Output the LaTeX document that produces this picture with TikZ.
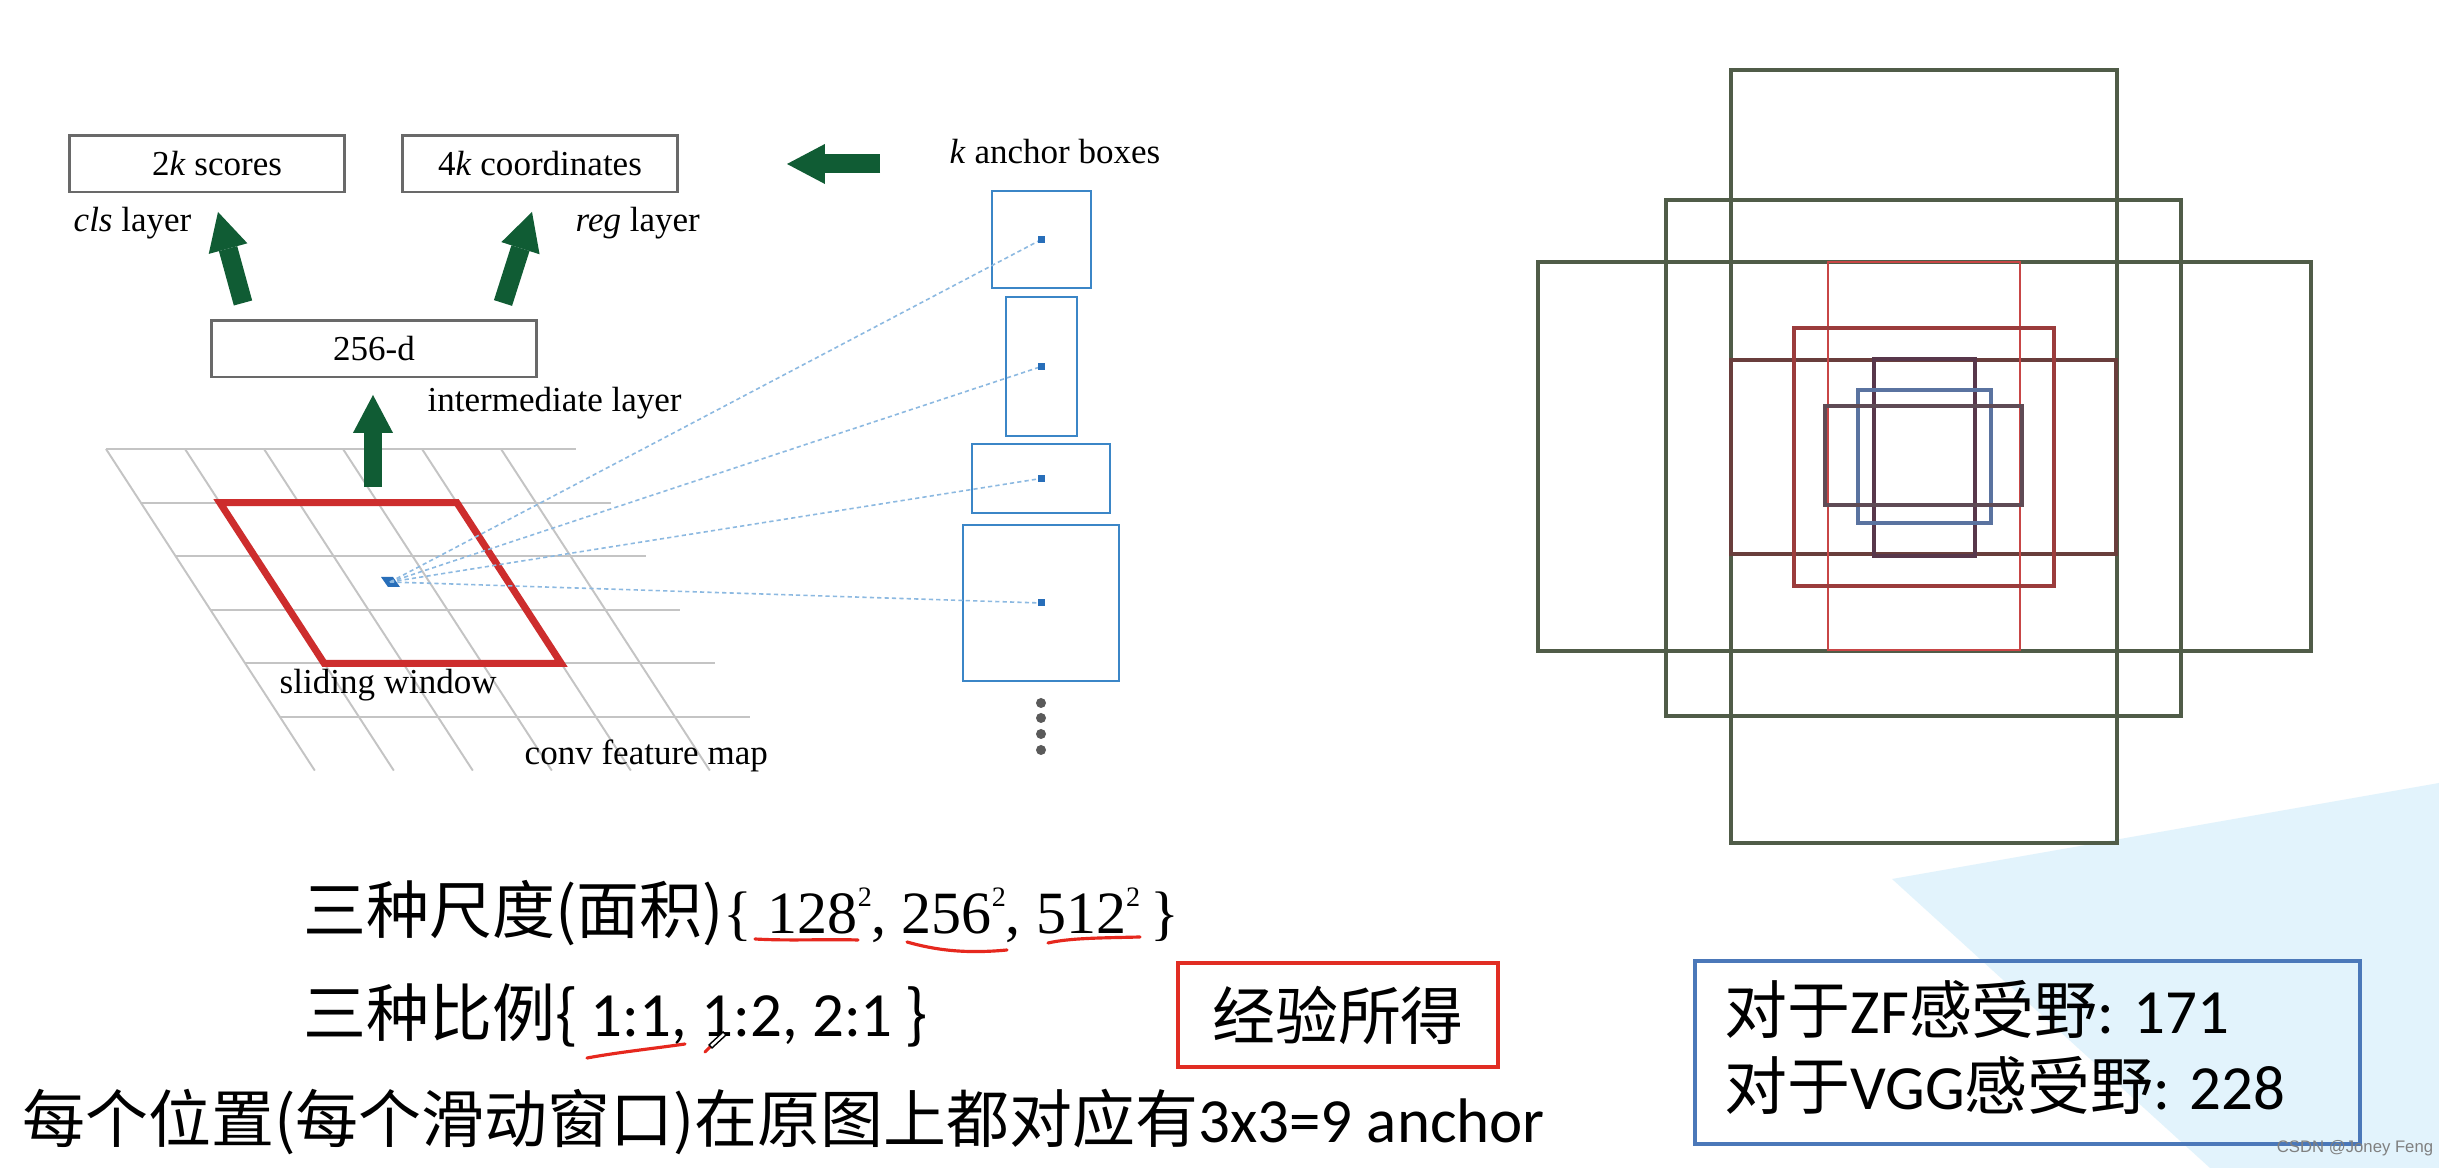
\documentclass[tikz,border=0pt]{standalone}
\usepackage{fontspec}
\setmainfont{Liberation Serif}
\newfontfamily\cjkf{Noto Sans CJK SC}
\newfontfamily\carl{Carlito}
\newfontfamily\wmf{Liberation Sans}
\usetikzlibrary{arrows.meta,calc}

\definecolor{agreen}{RGB}{16,92,52}
\definecolor{gridgray}{RGB}{196,196,196}
\definecolor{boxgray}{RGB}{105,105,105}
\definecolor{winred}{RGB}{205,45,45}
\definecolor{anchorblue}{RGB}{59,134,199}
\definecolor{dashblue}{RGB}{140,185,225}
\definecolor{dotblue}{RGB}{40,110,185}
\definecolor{dotgray}{RGB}{90,90,90}
\definecolor{bggreen}{RGB}{80,92,72}
\definecolor{midwide}{RGB}{105,62,60}
\definecolor{midtall}{RGB}{200,70,70}
\definecolor{midsq}{RGB}{155,60,60}
\definecolor{smtall}{RGB}{88,55,75}
\definecolor{smsq}{RGB}{90,115,160}
\definecolor{smwide}{RGB}{95,75,85}
\definecolor{bgblue}{RGB}{226,243,252}
\definecolor{boxred}{RGB}{225,45,35}
\definecolor{boxblue}{RGB}{75,120,185}
\definecolor{penred}{RGB}{230,40,30}

\newcommand\fsm{\fontsize{9.96pt}{12pt}\selectfont}
\newcommand\fbig{\fontsize{17.9pt}{21pt}\selectfont}
\newcommand\ftnr{\fontsize{17.07pt}{20pt}\selectfont}
\newcommand\sqtwo{\raisebox{7.9pt}{\fontsize{8pt}{8pt}\selectfont 2}}

\tikzset{
  lbox/.style={draw=boxgray, line width=0.85pt, minimum height=0.56cm, inner sep=0pt, font=\fsm},
  lbl/.style={anchor=base west, inner sep=0pt, font=\fsm},
  fatarrow/.style={draw=agreen, line width=5.4pt, -{Triangle[length=10.8pt,width=11.4pt,line width=0pt]}},
  gridline/.style={draw=gridgray, line width=0.55pt},
  win/.style={draw=winred, line width=2pt, line join=miter},
  abox/.style={draw=anchorblue, line width=0.7pt, inner sep=0pt},
  dashl/.style={draw=dashblue, line width=0.45pt, dash pattern=on 1.2pt off 0.9pt},
  bigtxt/.style={anchor=base west, inner sep=0pt, font=\fbig\cjkf},
  pen/.style={draw=penred, line width=0.9pt, line cap=round},
  anc/.style={line width=0.95pt}
}

\begin{document}
\begin{tikzpicture}[x=0.01cm,y=-0.01cm]
\fill[white] (0,0) rectangle (2439,1168);
\useasboundingbox (0,0) rectangle (2439,1168);

% light blue background wedge
\fill[bgblue] (1892,879) -- (2439,783) -- (2439,1168) -- (2210,1168) -- cycle;

% ---------- left diagram ----------
% conv feature map grid
\foreach \i in {0,...,5}
  \draw[gridline] ({106+79*\i},449) -- ({106+79*\i+6*34.8},{449+6*53.6});
\foreach \j in {0,...,5}
  \draw[gridline] ({106+34.8*\j},{449+53.6*\j}) -- ++(470,0);

% sliding window
\draw[win] (219.8,502.6) -- (456.8,502.6) -- (561.2,663.4) -- (324.2,663.4) -- cycle;

% centre of window
\coordinate (src) at (390,582);
\fill[dotblue] (381,577) -- (393,577) -- (400,587) -- (388,587) -- cycle;

% boxes
\node[lbox, minimum width=2.74cm] (cls) at (207,164) {\hspace{0.2cm}2\textit{k} scores};
\node[lbox, minimum width=2.74cm] (reg) at (540,164) {4\textit{k} coordinates};
\node[lbox, minimum width=3.24cm] (mid) at (374,349) {256-d};

% labels
\node[lbl] (clsl) at (73,232) {\textit{cls} layer};
\node[lbl] (regl) at (575,232) {\textit{reg} layer};
\node[lbl] (kab) at (949,164) {\textit{k} anchor boxes};
\node[lbl] (intl) at (427,412) {intermediate layer};
\node[lbl] (slw) at (279,694) {sliding window};
\node[lbl] (cfm) at (524,765) {conv feature map};

% green arrows
\coordinate (v0) at (373,487);  \coordinate (v1) at (373,395);
\coordinate (l0) at (243,303);  \coordinate (l1) at (218,212);
\coordinate (r0) at (503,303);  \coordinate (r1) at (532,212);
\coordinate (h0) at (880,164);  \coordinate (h1) at (787,164);
\draw[fatarrow] (v0) -- (v1);
\draw[fatarrow] (l0) -- (l1);
\draw[fatarrow] (r0) -- (r1);
\draw[fatarrow] (h0) -- (h1);

% anchor boxes
\node[abox, minimum width=0.99cm, minimum height=0.97cm] (a1) at (1041.5,239.5) {};
\node[abox, minimum width=0.71cm, minimum height=1.39cm] (a2) at (1041.5,366.5) {};
\node[abox, minimum width=1.38cm, minimum height=0.69cm] (a3) at (1041,478.5) {};
\node[abox, minimum width=1.56cm, minimum height=1.56cm] (a4) at (1041,603) {};
\foreach \a in {a1,a2,a3,a4}{
  \draw[dashl] (src) -- (\a.center);
  \fill[dotblue] ($(\a.center)+(-3.5,-3.5)$) rectangle ++(7,7);
}
\foreach \y in {703,718,734,750}
  \fill[dotgray] (1041,\y) circle (0.05cm);

% ---------- right diagram (anchors) ----------
\draw[anc, bggreen] (1731,70) rectangle (2117,843);
\draw[anc, bggreen] (1666,200) rectangle (2181,716);
\draw[anc, bggreen] (1538,262) rectangle (2311,651);
\draw[anc, midwide] (1731,360) rectangle (2116,554);
\draw[anc, midtall, line width=0.7pt] (1828,262) rectangle (2020,650);
\draw[anc, midsq] (1794,328) rectangle (2054,586);
\draw[anc, smtall] (1874,359) rectangle (1975,556);
\draw[anc, smsq] (1858,390) rectangle (1991,523);
\draw[anc, smwide] (1825,406) rectangle (2022,505);

% ---------- bottom texts ----------
\node[bigtxt] (t1) at (303,934) {三种尺度(面积){\rmfamily\ftnr\{ 128\sqtwo, 256\sqtwo, 512\sqtwo\,\}}};
\node[bigtxt] (t2) at (303,1037) {三种比例\{ {\carl 1:1, 1:2, 2:1} \}};
\node[bigtxt] (t3) at (22,1143) {每个位置(每个滑动窗口)在原图上都对应有{\carl 3x3=9 anchor}};

\node[draw=boxred, line width=1.2pt, minimum width=3.2cm, minimum height=1.04cm, inner sep=0pt, font=\fbig\cjkf] (emp) at (1338,1015) {经验所得};

\node[draw=boxblue, line width=1.2pt, minimum width=6.65cm, minimum height=1.83cm, inner sep=0pt] (rf) at (2027.5,1052.5) {};
\node[bigtxt] (zf) at (1724,1034) {对于{\carl ZF}感受野{\carl : 171}};
\node[bigtxt] (vgg) at (1724,1110) {对于{\carl VGG}感受野{\carl : 228}};

% hand-drawn red marks
\draw[pen] (755,939) .. controls (790,941) and (825,939) .. (858,940);
\draw[pen] (907,942) .. controls (935,950) and (965,954) .. (1007,950);
\draw[pen] (1048,943) .. controls (1070,938) and (1100,938) .. (1140,937);
\draw[pen] (587,1058) .. controls (620,1052) and (650,1049) .. (685,1044);
\draw[pen] (705,1052) -- (711,1046);
\draw[black, line width=0.4pt, fill=white] (709,1045) -- (723,1032) -- (726,1035) -- (712,1048) -- cycle;

% watermark
\node[font=\wmf\fontsize{4.75pt}{5pt}\selectfont, text=gray, inner sep=0pt] (wm) at (2355,1148) {CSDN @Joney Feng};
\end{tikzpicture}
\end{document}
